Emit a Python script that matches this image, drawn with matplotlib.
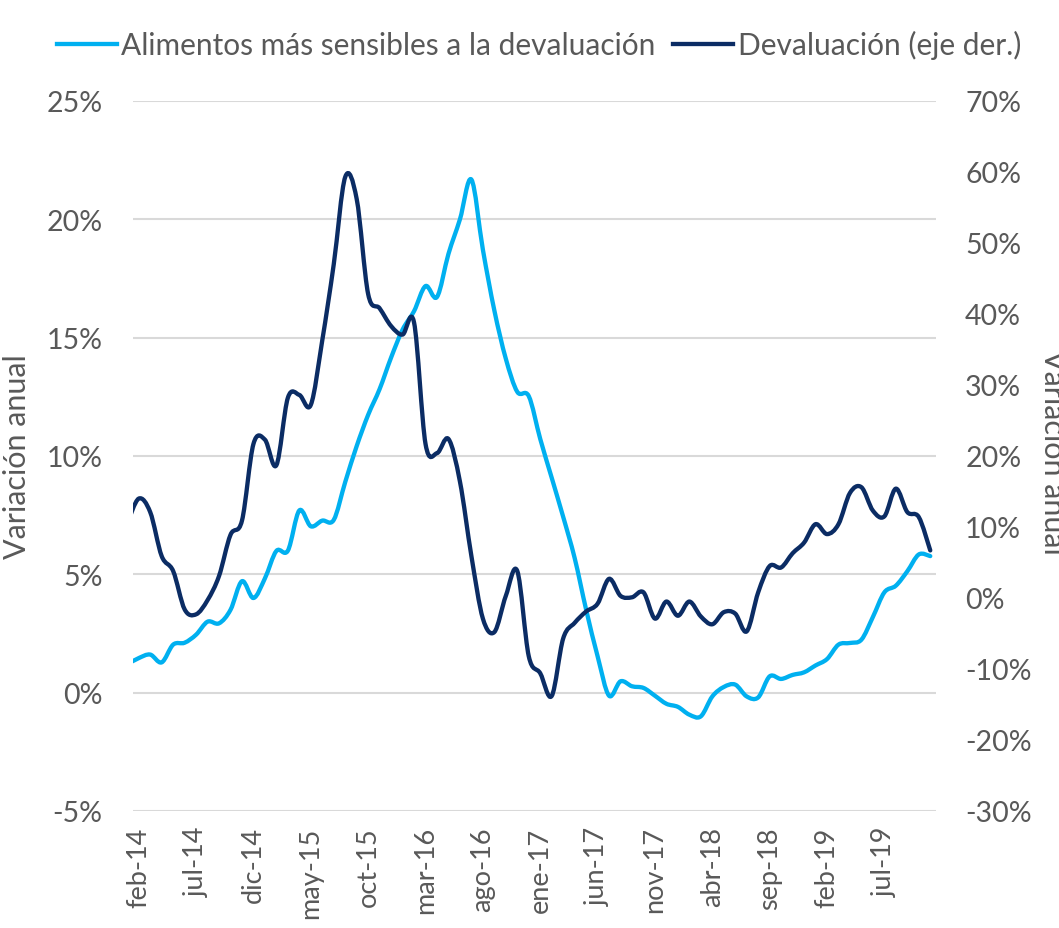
import numpy as np
import matplotlib
matplotlib.use("Agg")
import matplotlib.pyplot as plt
from matplotlib.path import Path
from matplotlib.patches import PathPatch
from matplotlib.lines import Line2D
from matplotlib.ticker import FuncFormatter, MultipleLocator

# ---------------- data ----------------
month_names = ['ene', 'feb', 'mar', 'abr', 'may', 'jun', 'jul', 'ago', 'sep', 'oct', 'nov', 'dic']
months = [f"{month_names[m % 12]}-{14 + m // 12}" for m in range(0, 71)]  # ene-14 ... nov-19

alimentos = [1.2, 1.46, 1.61, 1.28, 2.03, 2.11, 2.45, 3.0, 2.93, 3.5, 4.71, 4.0, 4.83, 5.99, 6.0,
             7.7, 7.03, 7.27, 7.3, 8.9, 10.42, 11.74, 12.83, 14.16, 15.34, 16.12, 17.18, 16.72,
             18.54, 20.0, 21.68, 18.72, 16.15, 14.11, 12.71, 12.53, 10.72, 9.08, 7.43, 5.69, 3.51,
             1.54, -0.13, 0.48, 0.27, 0.2, -0.13, -0.47, -0.6, -0.93, -1.0, -0.16, 0.24, 0.34,
             -0.16, -0.2, 0.69, 0.58, 0.75, 0.86, 1.15, 1.42, 2.03, 2.1, 2.24, 3.2, 4.24, 4.52,
             5.13, 5.84, 5.77]

devaluacion = [10.5, 14.0, 12.1, 5.9, 3.8, -1.6, -2.3, -0.3, 3.1, 8.9, 10.9, 21.7, 22.3, 18.7,
               28.2, 28.6, 27.2, 36.3, 47.0, 59.3, 56.2, 42.8, 40.8, 38.3, 37.1, 38.8, 21.7, 20.4,
               22.4, 16.4, 5.9, -2.9, -4.8, 0.3, 3.8, -8.2, -10.6, -13.8, -5.7, -3.5, -1.9, -0.8,
               2.7, 0.3, 0.1, 0.8, -2.9, -0.5, -2.5, -0.5, -2.6, -3.7, -2.0, -2.2, -4.7, 0.8, 4.5,
               4.3, 6.3, 7.8, 10.4, 9.0, 10.4, 14.8, 15.6, 12.3, 11.5, 15.4, 12.1, 11.4, 6.7]

tick_labels = months[1::5]  # feb-14, jul-14, ...

series_names = ['Alimentos más sensibles a la devaluación', 'Devaluación (eje der.)']
axis_title = 'Variación anual'
color_light = '#00B0F0'
color_dark = '#0B2C64'
text_color = '#595959'

plt.rcParams['font.family'] = ['Lato', 'DejaVu Sans']


def smooth_path(x, y):
    pts = np.column_stack([x, y]).astype(float)
    n = len(pts)
    verts = [pts[0]]
    codes = [Path.MOVETO]
    for k in range(n - 1):
        p0 = pts[k - 1] if k > 0 else pts[k]
        p1 = pts[k]
        p2 = pts[k + 1]
        p3 = pts[k + 2] if k + 2 < n else pts[k + 1]
        c1 = p1 + (p2 - p0) / 6.0
        c2 = p2 - (p3 - p1) / 6.0
        verts += [c1, c2, p2]
        codes += [Path.CURVE4] * 3
    return Path(verts, codes)


fig = plt.figure(figsize=(10.59, 9.29), dpi=100)
ax = fig.add_axes([133 / 1059, 1 - 812 / 929, 803 / 1059, 710 / 929])
ax2 = ax.twinx()

x = np.arange(len(months)) - 1  # ene-14 sits just left of the plot area

ax.set_xlim(-0.5, len(months) - 1.5)
ax.set_ylim(-5, 25)
ax2.set_ylim(-30, 70)

ax.add_patch(PathPatch(smooth_path(x, alimentos), facecolor='none', edgecolor=color_light,
                       lw=3.1, capstyle='round', joinstyle='round'))
ax2.add_patch(PathPatch(smooth_path(x, devaluacion), facecolor='none', edgecolor=color_dark,
                        lw=3.1, capstyle='round', joinstyle='round'))

ax.yaxis.set_major_locator(MultipleLocator(5))
ax2.yaxis.set_major_locator(MultipleLocator(10))
pct = FuncFormatter(lambda v, p: f"{v:.0f}%")
ax.yaxis.set_major_formatter(pct)
ax2.yaxis.set_major_formatter(pct)

ax.set_xticks(np.arange(0, len(months) - 1, 5))
ax.set_xticklabels(tick_labels, rotation=90)

ax.yaxis.grid(True, color='#D9D9D9', lw=1.5)
ax.set_axisbelow(True)

for a in (ax, ax2):
    for s in a.spines.values():
        s.set_visible(False)
    a.tick_params(length=0, labelcolor=text_color)
ax.tick_params(axis='y', labelsize=20.5, pad=22)
ax2.tick_params(axis='y', labelsize=20.5, pad=21)
ax.tick_params(axis='x', labelsize=19.5, pad=11)

ax.set_ylabel(axis_title, fontsize=22, color=text_color)
ax.yaxis.set_label_coords(-0.127, 0.5)
ax2.set_ylabel(axis_title, fontsize=22, color=text_color, rotation=270, va='center')
ax2.yaxis.set_label_coords(1.146, 0.507)

handles = [Line2D([0], [0], color=color_light, lw=3.1),
           Line2D([0], [0], color=color_dark, lw=3.1)]
fig.legend(handles, series_names, loc='center', bbox_to_anchor=(0.509, 0.951), ncol=2,
           frameon=False, fontsize=21.5, labelcolor=text_color, handlelength=2.0,
           handletextpad=0.15, columnspacing=0.6)

fig.savefig('out.png', dpi=100, facecolor='white')
